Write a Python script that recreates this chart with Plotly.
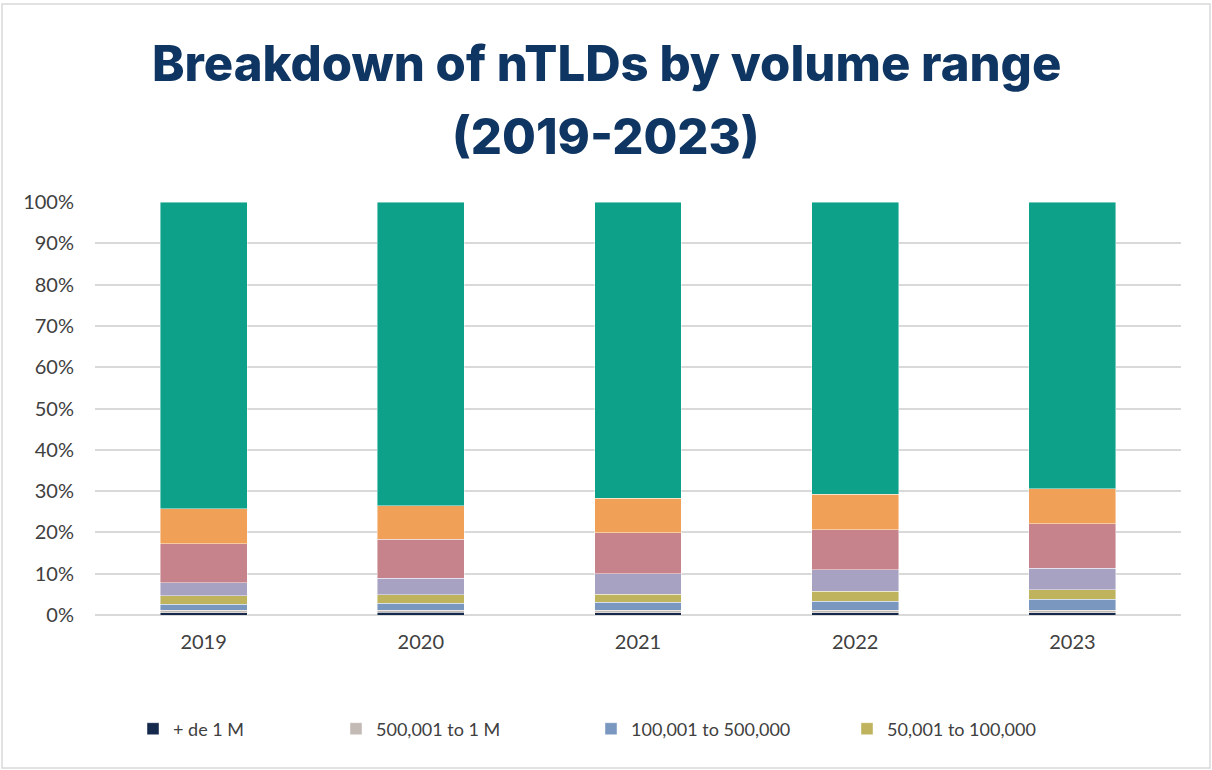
import plotly.graph_objects as go

years = ["2019", "2020", "2021", "2022", "2023"]

series_names = [
    "+ de 1 M",
    "500,001 to 1 M",
    "100,001 to 500,000",
    "50,001 to 100,000",
    "10,001 to 50,000",
    "1,001 to 10,000",
    "101 to 1,000",
    "0 to 100",
]

de_1m = [0.60, 0.65, 0.55, 0.50, 0.55]
s500k_1m = [0.50, 0.55, 0.65, 0.70, 0.65]
s100k_500k = [1.50, 1.60, 1.90, 2.10, 2.60]
s50k_100k = [2.10, 2.05, 1.90, 2.40, 2.30]
s10k_50k = [3.05, 4.05, 5.00, 5.20, 5.20]
s1k_10k = [9.55, 9.50, 9.90, 9.80, 10.80]
s100_1k = [8.40, 8.00, 8.40, 8.50, 8.50]
s0_100 = [74.30, 73.60, 71.70, 70.80, 69.40]

series_values = [de_1m, s500k_1m, s100k_500k, s50k_100k,
                 s10k_50k, s1k_10k, s100_1k, s0_100]

colors = ["#15294d", "#c4bab5", "#7a98bf", "#bfb35e",
          "#a7a2c2", "#c7838c", "#f0a057", "#0ea189"]

legend_ids = ["legend", "legend2", "legend3", "legend4"]

fig = go.Figure()
for i, (name, vals, col) in enumerate(zip(series_names, series_values, colors)):
    show = i < 4
    fig.add_trace(go.Bar(
        x=years,
        y=[v / 100 for v in vals],
        name=name,
        marker=dict(color=col, line=dict(color="rgba(255,255,255,0.55)", width=0.8)),
        showlegend=show,
        legend=legend_ids[i] if show else None,
        hovertemplate="%{x}: %{y:.1%}<extra>" + name + "</extra>",
    ))

L, R, T, B = 95, 31, 202, 155
W, H = 1212, 770
pw = W - L - R
ph = H - T - B

def px_x(px):
    return (px - L) / pw

def px_y(py):
    return (H - B - py) / ph

legend_font = dict(family="Lato, Open Sans, sans-serif", size=18, color="#404040")
text_starts = [170, 373, 628, 884]
legend_cfg = {}
for lid, ts in zip(legend_ids, text_starts):
    legend_cfg[lid] = dict(
        x=px_x(ts - 37), y=px_y(729), xanchor="left", yanchor="middle",
        orientation="h", font=legend_font, bgcolor="rgba(0,0,0,0)",
        itemwidth=30, tracegroupgap=0,
    )

title_font = dict(family="Inter, Open Sans, sans-serif", size=49, color="#0f3562", weight=800)

fig.update_layout(
    width=W, height=H,
    barmode="stack",
    bargap=0.6,
    plot_bgcolor="white",
    paper_bgcolor="white",
    margin=dict(l=L, r=R, t=T, b=B, autoexpand=False),
    xaxis=dict(
        showgrid=False, showline=False, zeroline=False,
        tickfont=dict(family="Lato, Open Sans, sans-serif", size=20, color="#404040"),
        ticks="", ticklabelstandoff=13,
    ),
    yaxis=dict(
        range=[0, 1.0], tickvals=[i / 10 for i in range(11)],
        tickformat=".0%", showgrid=True, gridcolor="#d9d9d9", gridwidth=1.5,
        zeroline=True, zerolinecolor="#d9d9d9", zerolinewidth=1.5,
        tickfont=dict(family="Lato, Open Sans, sans-serif", size=20, color="#404040"),
        ticks="", ticklabelstandoff=20,
    ),
    annotations=[
        dict(text="Breakdown of nTLDs by volume range", x=px_x(606), y=px_y(63),
             xref="paper", yref="paper", xanchor="center", yanchor="middle",
             showarrow=False, font=title_font),
        dict(text="(2019-2023)", x=px_x(606), y=px_y(136),
             xref="paper", yref="paper", xanchor="center", yanchor="middle",
             showarrow=False, font=title_font),
    ],
    shapes=[
        dict(type="rect", xref="paper", yref="paper",
             x0=px_x(2), x1=px_x(1210), y0=px_y(768), y1=px_y(4),
             line=dict(color="#d9d9d9", width=1.5), fillcolor="rgba(0,0,0,0)",
             layer="below"),
    ],
    **legend_cfg,
)

fig.write_html("out.html")
